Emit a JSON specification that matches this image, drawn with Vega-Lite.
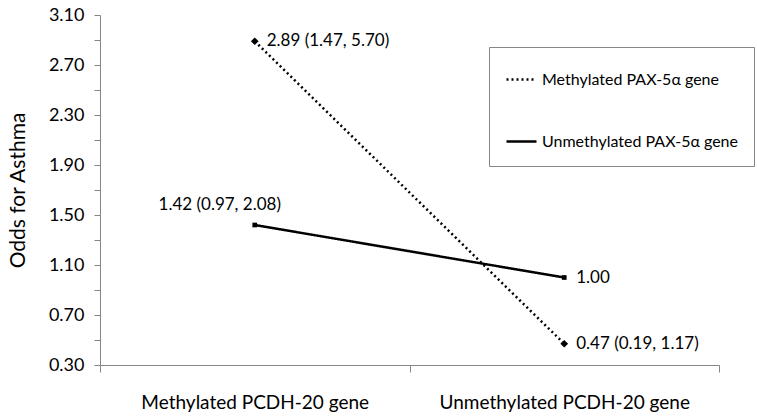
{
  "$schema": "https://vega.github.io/schema/vega-lite/v6.json",
  "autosize": "none",
  "width": 619,
  "height": 350,
  "padding": {"left": 100, "top": 15, "right": 38, "bottom": 51},
  "background": "white",
  "config": {
    "view": {"stroke": null},
    "font": "Lato",
    "axis": {"domainColor": "#868686", "tickColor": "#868686", "labelColor": "#000", "titleColor": "#000", "grid": false, "labelFont": "Lato", "titleFont": "Lato"}
  },
  "data": {
    "values": [
      {"series": "Methylated PAX-5α gene", "gene": "Methylated PCDH-20 gene", "value": 2.89, "label": "2.89 (1.47, 5.70)", "place": "right"},
      {"series": "Methylated PAX-5α gene", "gene": "Unmethylated PCDH-20 gene", "value": 0.47, "label": "0.47 (0.19, 1.17)", "place": "right"},
      {"series": "Unmethylated PAX-5α gene", "gene": "Methylated PCDH-20 gene", "value": 1.42, "label": "1.42 (0.97, 2.08)", "place": "above"},
      {"series": "Unmethylated PAX-5α gene", "gene": "Unmethylated PCDH-20 gene", "value": 1.0, "label": "1.00", "place": "right"}
    ]
  },
  "encoding": {
    "x": {
      "field": "gene", "type": "nominal", "sort": ["Methylated PCDH-20 gene", "Unmethylated PCDH-20 gene"],
      "scale": {"paddingInner": 0, "paddingOuter": 0},
      "axis": {"title": null, "labelAngle": 0, "labelFontSize": 19, "labelPadding": 21, "labelLimit": 0, "tickBand": "extent", "tickSize": 7, "labelFont": "Lato"}
    },
    "y": {
      "field": "value", "type": "quantitative",
      "scale": {"domain": [0.3, 3.1], "nice": false, "zero": false},
      "axis": {"title": "Odds for Asthma", "titleFontSize": 21, "titleFontWeight": "normal", "titlePadding": 20, "labelFontSize": 18, "labelPadding": 10, "tickSize": 6, "values": [0.3, 0.5, 0.7, 0.9, 1.1, 1.3, 1.5, 1.7, 1.9, 2.1, 2.3, 2.5, 2.7, 2.9, 3.1], "labelExpr": "abs(round(datum.value*10) % 4 - 3) < 0.01 || abs(round(datum.value*10)%4 + 1) < 0.01 ? format(datum.value, '.2f') : ''"}
    }
  },
  "layer": [
    {
      "mark": {"type": "line", "strokeWidth": 2.5, "color": "black"},
      "encoding": {
        "strokeDash": {
          "field": "series", "type": "nominal",
          "scale": {"domain": ["Methylated PAX-5α gene", "Unmethylated PAX-5α gene"], "range": [[2, 3], [1, 0]]},
          "legend": {"title": null, "orient": "none", "legendX": 389, "legendY": 32, "strokeColor": "#868686", "padding": 16, "labelFontSize": 16, "labelFont": "Lato", "labelLimit": 0, "rowPadding": 37, "symbolType": "stroke", "symbolStrokeColor": "black", "symbolStrokeWidth": 2.5, "symbolSize": 900, "labelOffset": 4}
        },
        "detail": {"field": "series"}
      }
    },
    {
      "transform": [{"filter": "datum.series == 'Methylated PAX-5α gene'"}],
      "mark": {"type": "point", "filled": true, "color": "black", "opacity": 1, "shape": "diamond", "size": 60}
    },
    {
      "transform": [{"filter": "datum.series == 'Unmethylated PAX-5α gene'"}],
      "mark": {"type": "point", "filled": true, "color": "black", "opacity": 1, "shape": "square", "size": 22}
    },
    {
      "transform": [{"filter": "datum.place == 'right'"}],
      "mark": {"type": "text", "align": "left", "dx": 12, "fontSize": 17, "font": "Lato", "color": "black"},
      "encoding": {"text": {"field": "label"}}
    },
    {
      "transform": [{"filter": "datum.place == 'above'"}],
      "mark": {"type": "text", "align": "center", "dx": -35, "dy": -20, "fontSize": 17, "font": "Lato", "color": "black"},
      "encoding": {"text": {"field": "label"}}
    }
  ]
}
